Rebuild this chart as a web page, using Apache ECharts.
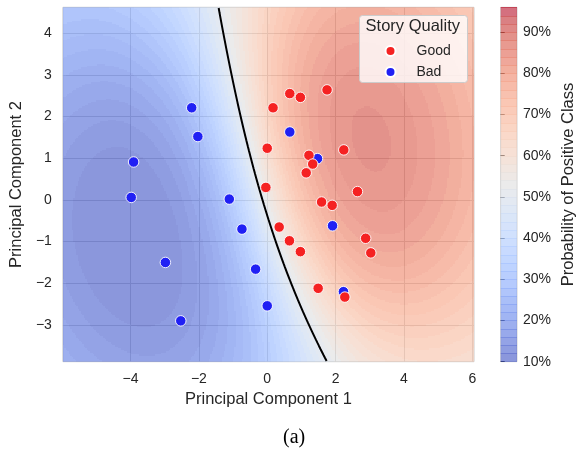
<!DOCTYPE html>
<html>
<head>
<meta charset="utf-8">
<script src="https://cdn.jsdelivr.net/npm/echarts@6/dist/echarts.min.js"></script>
<style>
  html, body { margin: 0; padding: 0; background: #ffffff; }
  #chart { width: 578px; height: 452px; }
</style>
</head>
<body>
<div id="chart"></div>
<script>
// Story scores on the first two principal components
const goodPC1 = [0.17, 0.00, -0.04, 0.66, 0.97, 1.75, 1.22, 1.33, 1.14, 2.24, 2.64, 1.59, 1.90, 0.35, 0.65, 0.97, 2.88, 3.03, 1.49, 2.27];
const goodPC2 = [2.21, 1.24, 0.30, 2.55, 2.46, 2.64, 1.07, 0.86, 0.65, 1.20, 0.20, -0.05, -0.13, -0.65, -0.98, -1.24, -0.92, -1.27, -2.12, -2.33];
const badPC1 = [-2.21, -2.03, -3.91, -3.98, -1.11, -0.74, -2.98, -0.34, -2.53, 0.00, 0.66, 1.47, 1.91, 2.23];
const badPC2 = [2.21, 1.52, 0.91, 0.06, 0.02, -0.70, -1.50, -1.66, -2.90, -2.54, 1.63, 0.99, -0.62, -2.20];

// Axis ticks
const xTicks = [-4, -2, 0, 2, 4, 6];
const yTicks = [-3, -2, -1, 0, 1, 2, 3, 4];
const probTicks = [0.1, 0.2, 0.3, 0.4, 0.5, 0.6, 0.7, 0.8, 0.9];

// Plot window and filled-contour levels
const X_MIN = -5.98, X_MAX = 6.05, Y_MIN = -3.88, Y_MAX = 4.62;
const LEVEL_MIN = 0.10, LEVEL_MAX = 0.96, LEVEL_STEP = 0.02;
const FILL_ALPHA = 0.6;

// ---- coolwarm colormap ----
const COOLWARM = [
  [59,76,192],[68,90,204],[77,104,215],[87,117,225],[98,130,234],[108,142,241],[119,154,247],[130,165,251],
  [141,176,254],[152,185,255],[163,194,255],[174,201,253],[184,208,249],[194,213,244],[204,217,238],[213,219,230],
  [221,221,221],[229,216,209],[236,211,197],[241,204,185],[245,196,173],[247,187,160],[247,177,148],[247,166,135],
  [244,154,123],[241,141,111],[236,127,99],[229,112,88],[222,96,77],[213,80,66],[203,62,56],[192,40,47],[180,4,38]
];
function coolwarm(t) {
  t = Math.max(0, Math.min(1, t));
  const pos = t * (COOLWARM.length - 1);
  const i = Math.min(COOLWARM.length - 2, Math.floor(pos));
  const f = pos - i;
  const a = COOLWARM[i], b = COOLWARM[i + 1];
  return [0, 1, 2].map(k => a[k] + (b[k] - a[k]) * f);
}
function rgba(c, a) {
  return 'rgba(' + Math.round(c[0]) + ',' + Math.round(c[1]) + ',' + Math.round(c[2]) + ',' + a + ')';
}

const levels = [];
for (let v = LEVEL_MIN; v <= LEVEL_MAX + 1e-9; v += LEVEL_STEP) levels.push(+v.toFixed(4));
const nBands = levels.length - 1;
const bandColor = [];
for (let k = 0; k < nBands; k++) {
  const mid = 0.5 * (levels[k] + levels[k + 1]);
  bandColor.push(coolwarm((mid - LEVEL_MIN) / (LEVEL_MAX - LEVEL_MIN)));
}

// ---- Gaussian process classifier (Laplace approximation, RBF kernel) ----
const X = [], T = [];
goodPC1.forEach((v, i) => { X.push([v, goodPC2[i]]); T.push(1); });
badPC1.forEach((v, i) => { X.push([v, badPC2[i]]); T.push(0); });
const N = X.length;
const D2 = X.map(a => X.map(b => (a[0] - b[0]) ** 2 + (a[1] - b[1]) ** 2));

const sigmoid = z => 1 / (1 + Math.exp(-z));
function cholesky(A) {
  const n = A.length;
  const L = Array.from({ length: n }, () => new Float64Array(n));
  for (let i = 0; i < n; i++) {
    for (let j = 0; j <= i; j++) {
      let s = A[i][j];
      for (let k = 0; k < j; k++) s -= L[i][k] * L[j][k];
      L[i][j] = i === j ? Math.sqrt(Math.max(s, 1e-300)) : s / L[j][j];
    }
  }
  return L;
}
function forward(L, r) {
  const n = r.length, z = new Float64Array(n);
  for (let i = 0; i < n; i++) {
    let s = r[i];
    for (let k = 0; k < i; k++) s -= L[i][k] * z[k];
    z[i] = s / L[i][i];
  }
  return z;
}
function backward(L, z) {
  const n = z.length, x = new Float64Array(n);
  for (let i = n - 1; i >= 0; i--) {
    let s = z[i];
    for (let k = i + 1; k < n; k++) s -= L[k][i] * x[k];
    x[i] = s / L[i][i];
  }
  return x;
}
function matvec(K, v) {
  return K.map(row => { let s = 0; for (let j = 0; j < v.length; j++) s += row[j] * v[j]; return s; });
}
function fitGPC(amp, ls) {
  const K = D2.map(row => row.map(d => amp * Math.exp(-d / (2 * ls * ls))));
  let f = new Float64Array(N);
  let lml = -Infinity;
  let pi, sW, L;
  for (let it = 0; it < 100; it++) {
    pi = Array.from(f, sigmoid);
    const W = pi.map(p => p * (1 - p));
    sW = W.map(Math.sqrt);
    const B = K.map((row, i) => row.map((k, j) => (i === j ? 1 : 0) + sW[i] * k * sW[j]));
    L = cholesky(B);
    const b = pi.map((p, i) => W[i] * f[i] + (T[i] - p));
    const Kb = matvec(K, b);
    const s = backward(L, forward(L, Kb.map((v, i) => sW[i] * v)));
    const a = b.map((v, i) => v - sW[i] * s[i]);
    f = matvec(K, a);
    let val = 0;
    for (let i = 0; i < N; i++) {
      val += -0.5 * a[i] * f[i];
      val -= Math.log1p(Math.exp(-(2 * T[i] - 1) * f[i]));
      val -= Math.log(L[i][i]);
    }
    if (val - lml < 1e-10) { lml = val; break; }
    lml = val;
  }
  pi = Array.from(f, sigmoid);
  const W = pi.map(p => p * (1 - p));
  sW = W.map(Math.sqrt);
  const B = K.map((row, i) => row.map((k, j) => (i === j ? 1 : 0) + sW[i] * k * sW[j]));
  L = cholesky(B);
  return { amp, ls, lml, pi, sW, L };
}

// kernel hyper-parameters: ascend the marginal likelihood from amp = 1, length scale = 1
function climb(la, ll) {
  let cur = fitGPC(Math.exp(la), Math.exp(ll));
  let step = 0.5;
  while (step > 0.002) {
    let moved = false;
    for (const [da, dl] of [[step, 0], [-step, 0], [0, step], [0, -step]]) {
      const m = fitGPC(Math.exp(la + da), Math.exp(ll + dl));
      if (isFinite(m.lml) && m.lml > cur.lml) { cur = m; la += da; ll += dl; moved = true; break; }
    }
    if (!moved) step /= 2;
  }
  return cur;
}
const model = climb(0, 0);

function predictProba(x, y) {
  const ks = new Float64Array(N);
  let fs = 0;
  for (let i = 0; i < N; i++) {
    ks[i] = model.amp * Math.exp(-((x - X[i][0]) ** 2 + (y - X[i][1]) ** 2) / (2 * model.ls * model.ls));
    fs += ks[i] * (T[i] - model.pi[i]);
  }
  const v = forward(model.L, Array.from(ks, (k, i) => model.sW[i] * k));
  let vv = 0;
  for (let i = 0; i < N; i++) vv += v[i] * v[i];
  const variance = Math.max(model.amp - vv, 0);
  return sigmoid(fs / Math.sqrt(1 + Math.PI * variance / 8));
}

// ---- probability surface on a mesh ----
const NX = 276, NY = 236;
const dx = (X_MAX - X_MIN) / NX, dy = (Y_MAX - Y_MIN) / NY;
const xs = [], ys = [];
for (let i = 0; i < NX; i++) xs.push(X_MIN + (i + 0.5) * dx);
for (let j = 0; j < NY; j++) ys.push(Y_MIN + (j + 0.5) * dy);
const P = ys.map(y => xs.map(x => predictProba(x, y)));

function bandOf(p) {
  return Math.max(0, Math.min(nBands - 1, Math.floor((p - LEVEL_MIN) / LEVEL_STEP)));
}
// run-length merge of mesh cells that fall in the same contour band
const fieldRuns = [];
for (let j = 0; j < NY; j++) {
  let start = 0, band = bandOf(P[j][0]);
  for (let i = 1; i <= NX; i++) {
    const b = i < NX ? bandOf(P[j][i]) : -1;
    if (b !== band) {
      fieldRuns.push([X_MIN + start * dx, Y_MIN + j * dy, X_MIN + i * dx, Y_MIN + (j + 1) * dy, band]);
      start = i; band = b;
    }
  }
}

// ---- iso-lines by marching squares ----
function isoLines(level) {
  const pt = {}, segs = [], adj = new Map();
  const cross = (key, x0, y0, v0, x1, y1, v1) => {
    if (!(key in pt)) { const t = (level - v0) / (v1 - v0); pt[key] = [x0 + t * (x1 - x0), y0 + t * (y1 - y0)]; }
    return key;
  };
  const addSeg = (k1, k2) => {
    const id = segs.length; segs.push([k1, k2]);
    [k1, k2].forEach(k => { if (!adj.has(k)) adj.set(k, []); adj.get(k).push(id); });
  };
  for (let j = 0; j < NY - 1; j++) {
    for (let i = 0; i < NX - 1; i++) {
      const a = P[j][i], b = P[j][i + 1], c = P[j + 1][i + 1], d = P[j + 1][i];
      const bot = (a < level) !== (b < level) ? cross('h' + i + '_' + j, xs[i], ys[j], a, xs[i + 1], ys[j], b) : null;
      const rgt = (b < level) !== (c < level) ? cross('v' + (i + 1) + '_' + j, xs[i + 1], ys[j], b, xs[i + 1], ys[j + 1], c) : null;
      const top = (d < level) !== (c < level) ? cross('h' + i + '_' + (j + 1), xs[i], ys[j + 1], d, xs[i + 1], ys[j + 1], c) : null;
      const lft = (a < level) !== (d < level) ? cross('v' + i + '_' + j, xs[i], ys[j], a, xs[i], ys[j + 1], d) : null;
      const cs = [bot, rgt, top, lft].filter(k => k !== null);
      if (cs.length === 2) addSeg(cs[0], cs[1]);
      else if (cs.length === 4) {
        const m = (a + b + c + d) / 4;
        if ((m < level) === (a < level)) { addSeg(bot, rgt); addSeg(top, lft); }
        else { addSeg(bot, lft); addSeg(rgt, top); }
      }
    }
  }
  const used = new Array(segs.length).fill(false);
  const lines = [];
  const walk = startKey => {
    const line = [startKey];
    let cur = startKey;
    for (;;) {
      const next = (adj.get(cur) || []).find(id => !used[id]);
      if (next === undefined) break;
      used[next] = true;
      cur = segs[next][0] === cur ? segs[next][1] : segs[next][0];
      line.push(cur);
    }
    if (line.length > 1) lines.push(line.map(k => pt[k]));
  };
  adj.forEach((ids, k) => { if (ids.length === 1 && !used[ids[0]]) walk(k); });
  segs.forEach((s, id) => { if (!used[id]) walk(s[0]); });
  return lines;
}
const boundary = isoLines(0.5);

// ---- chart ----
const TEXT = '#262626';
const FONT = "'Liberation Sans', Arial, sans-serif";
const minus = v => (v < 0 ? '\u2212' + Math.abs(v) : String(v));

const colorbarBands = [];
for (let k = 0; k < nBands; k++) colorbarBands.push([levels[k], levels[k + 1], k]);

const series = [];
series.push({
  type: 'custom',
  name: 'surface',
  xAxisIndex: 0, yAxisIndex: 0,
  silent: true,
  clip: true,
  progressive: 0,
  z: 1,
  data: fieldRuns,
  renderItem: (params, api) => {
    const p0 = api.coord([api.value(0), api.value(3)]);
    const p1 = api.coord([api.value(2), api.value(1)]);
    const x0 = Math.round(p0[0]), y0 = Math.round(p0[1]);
    const x1 = Math.round(p1[0]), y1 = Math.round(p1[1]);
    return {
      type: 'rect',
      shape: { x: x0, y: y0, width: x1 - x0, height: y1 - y0 },
      style: { fill: rgba(bandColor[api.value(4)], FILL_ALPHA) }
    };
  }
});
boundary.forEach((line, idx) => {
  series.push({
    type: 'line',
    name: 'boundary' + idx,
    xAxisIndex: 0, yAxisIndex: 0,
    data: line,
    showSymbol: false,
    symbol: 'none',
    silent: true,
    z: 3,
    lineStyle: { color: '#000000', width: 2 }
  });
});
series.push({
  type: 'scatter',
  name: 'Bad',
  xAxisIndex: 0, yAxisIndex: 0,
  data: badPC1.map((v, i) => [v, badPC2[i]]),
  symbolSize: 10.5,
  z: 4,
  itemStyle: { color: '#2020f4', borderColor: '#ffffff', borderWidth: 0.9, opacity: 1 }
});
series.push({
  type: 'scatter',
  name: 'Good',
  xAxisIndex: 0, yAxisIndex: 0,
  data: goodPC1.map((v, i) => [v, goodPC2[i]]),
  symbolSize: 10.5,
  z: 4,
  itemStyle: { color: '#f52222', borderColor: '#ffffff', borderWidth: 0.9, opacity: 1 }
});
series.push({
  type: 'custom',
  name: 'colorbar',
  xAxisIndex: 1, yAxisIndex: 1,
  silent: true,
  data: colorbarBands,
  renderItem: (params, api) => {
    const p0 = api.coord([0, api.value(1)]);
    const p1 = api.coord([1, api.value(0)]);
    const c = bandColor[api.value(2)];
    const y0 = Math.round(p0[1]), y1 = Math.round(p1[1]);
    return {
      type: 'group',
      children: [
        { type: 'rect', shape: { x: p0[0], y: y0, width: p1[0] - p0[0], height: y1 - y0 }, style: { fill: rgba(c, FILL_ALPHA) } },
        { type: 'line', shape: { x1: p0[0], y1: y0 + 0.5, x2: p1[0], y2: y0 + 0.5 }, style: { stroke: rgba(c, 0.35), lineWidth: 1 } }
      ]
    };
  }
});

const option = {
  animation: false,
  backgroundColor: '#ffffff',
  textStyle: { fontFamily: FONT, color: TEXT },
  grid: [
    { left: 59.3, top: 7.3, width: 414.7, height: 354.4, show: true, borderColor: '#cccccc', borderWidth: 1, backgroundColor: '#ffffff' },
    { left: 500.7, top: 7.3, width: 17, height: 354.4, show: true, borderColor: '#d2d2d2', borderWidth: 1 }
  ],
  xAxis: [
    {
      type: 'value', gridIndex: 0, min: X_MIN, max: X_MAX, splitNumber: 6, minInterval: 2, maxInterval: 2,
      axisLine: { show: false },
      axisTick: { show: false, customValues: xTicks },
      axisLabel: { customValues: xTicks, formatter: minus, color: TEXT, fontSize: 14, margin: 10, fontFamily: FONT },
      splitLine: { show: true, lineStyle: { color: '#cccccc', width: 1 } },
      name: 'Principal Component 1', nameLocation: 'middle', nameGap: 25,
      nameTextStyle: { fontSize: 16.5, color: TEXT, fontFamily: FONT }
    },
    { type: 'value', gridIndex: 1, min: 0, max: 1, show: false }
  ],
  yAxis: [
    {
      type: 'value', gridIndex: 0, min: Y_MIN, max: Y_MAX, splitNumber: 8, minInterval: 1, maxInterval: 1,
      axisLine: { show: false },
      axisTick: { show: false, customValues: yTicks },
      axisLabel: { customValues: yTicks, formatter: minus, color: TEXT, fontSize: 14, margin: 11, fontFamily: FONT },
      splitLine: { show: true, lineStyle: { color: '#cccccc', width: 1 } },
      name: 'Principal Component 2', nameLocation: 'middle', nameGap: 24, nameRotate: 90,
      nameTextStyle: { fontSize: 16.5, color: TEXT, fontFamily: FONT }
    },
    {
      type: 'value', gridIndex: 1, min: LEVEL_MIN, max: LEVEL_MAX, position: 'right',
      axisLine: { show: false },
      axisTick: { show: true, length: 4, customValues: probTicks, lineStyle: { color: TEXT, width: 1 } },
      axisLabel: { customValues: probTicks, formatter: v => Math.round(v * 100) + '%', color: TEXT, fontSize: 14, margin: 6, fontFamily: FONT },
      splitLine: { show: false },
      name: 'Probability of Positive Class', nameLocation: 'middle', nameGap: 43, nameRotate: 90,
      nameTextStyle: { fontSize: 16.5, color: TEXT, fontFamily: FONT }
    }
  ],
  legend: {
    data: ['Good', 'Bad'],
    orient: 'vertical',
    left: 379.5, top: 39,
    itemWidth: 42, itemHeight: 10, itemGap: 7,
    icon: 'circle',
    z: 20,
    textStyle: { fontSize: 14, color: TEXT, fontFamily: FONT }
  },
  graphic: [
    { type: 'rect', z: 15, left: 359, top: 15, shape: { width: 108, height: 67, r: 3 }, style: { fill: 'rgba(255,255,255,0.8)', stroke: '#cccccc', lineWidth: 1 } },
    { type: 'text', z: 21, x: 412.8, y: 18, style: { text: 'Story Quality', align: 'center', fontSize: 16.5, fill: TEXT, fontFamily: FONT } },
    { type: 'text', z: 21, left: 283, top: 428, style: { text: '(a)', fontSize: 20, fill: '#000000', fontFamily: "'Liberation Serif', 'Times New Roman', serif" } }
  ],
  series
};

const chart = echarts.init(document.getElementById('chart'), null, { renderer: 'canvas' });
chart.setOption(option);
</script>
</body>
</html>
